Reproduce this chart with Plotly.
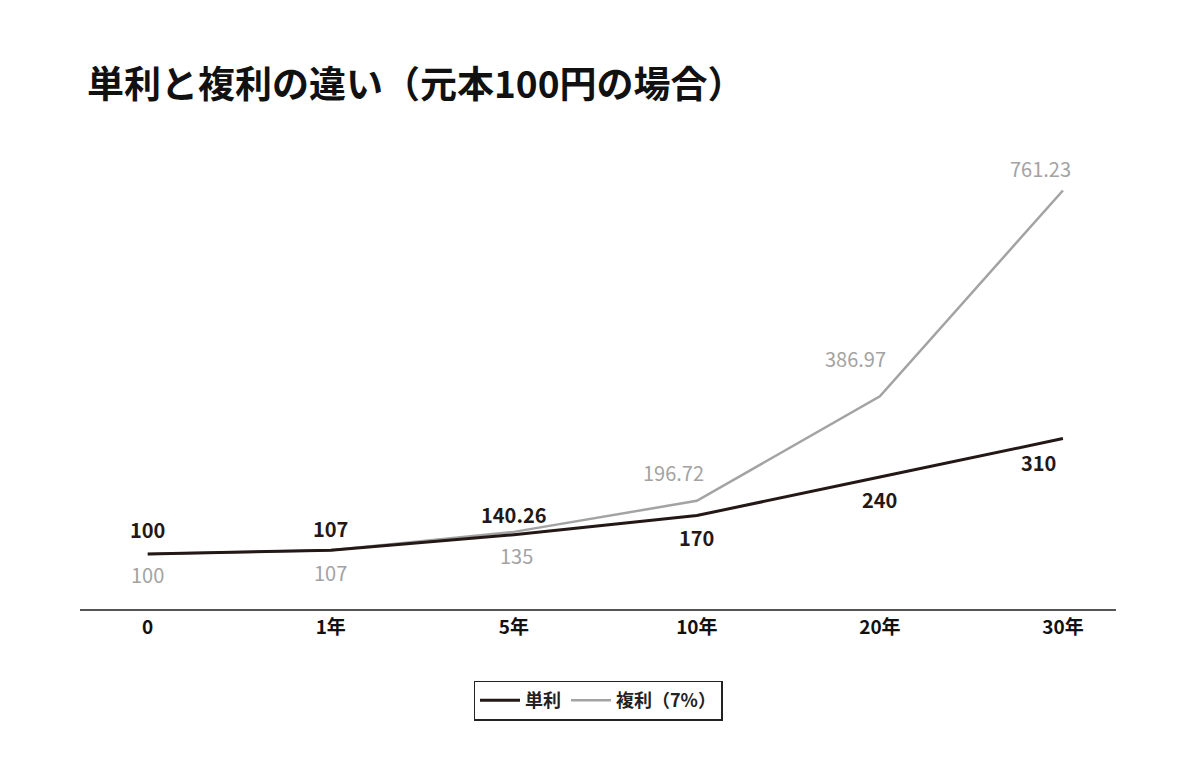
import plotly.graph_objects as go

years = ["0", "1年", "5年", "10年", "20年", "30年"]
simple = [100, 107, 135, 170, 240, 310]
compound = [100, 107, 140.26, 196.72, 386.97, 761.23]
black_labels = ["100", "107", "140.26", "170", "240", "310"]
gray_labels = ["100", "107", "135", "196.72", "386.97", "761.23"]

FONT = "Noto Sans CJK JP"
BLACK = "#231815"
GRAY = "#a3a3a3"

fig = go.Figure()
fig.add_trace(go.Scatter(x=years, y=compound, mode="lines", name="複利（7%）",
                         line=dict(color=GRAY, width=2.5)))
fig.add_trace(go.Scatter(x=years, y=simple, mode="lines", name="単利",
                         line=dict(color=BLACK, width=3)))

b_off = [(0, 25), (0, 22), (0, 20), (0, -22), (0, -22), (-24, -24)]
g_off = [(0, -20), (0, -22), (3, -24), (-23, 28), (-24, 38), (-22, 22)]
for i, yr in enumerate(years):
    fig.add_annotation(x=yr, y=simple[i], text=black_labels[i], showarrow=False,
                       xshift=b_off[i][0], yshift=b_off[i][1],
                       font=dict(family=FONT, size=20, color=BLACK, weight="bold"))
    fig.add_annotation(x=yr, y=compound[i], text=gray_labels[i], showarrow=False,
                       xshift=g_off[i][0], yshift=g_off[i][1],
                       font=dict(family=FONT, size=20, color=GRAY))

fig.add_annotation(xref="paper", yref="paper", x=0.005, y=1.15, xanchor="left", yanchor="middle",
                   text="単利と複利の違い（元本100円の場合）", showarrow=False,
                   font=dict(family=FONT, size=37, color="#111", weight="bold"))

fig.update_layout(
    width=1188, height=767,
    margin=dict(l=72, r=80, t=143, b=166),
    plot_bgcolor="white", paper_bgcolor="white",
    font=dict(family=FONT),
    legend=dict(orientation="h", x=0.5, xanchor="center", y=-0.2, yanchor="middle",
                bordercolor="#222", borderwidth=1.5, traceorder="reversed",
                itemwidth=40,
                font=dict(family=FONT, size=18, color="#222", weight="bold")),
    xaxis=dict(type="category", range=[-0.37, 5.29], showgrid=False, showline=True,
               linecolor="#555", linewidth=1.5, ticks="", zeroline=False,
               tickfont=dict(family=FONT, size=19, color="#111", weight="bold")),
    yaxis=dict(range=[0, 833], visible=False, showgrid=False, zeroline=False),
)
fig.write_html("out.html")
